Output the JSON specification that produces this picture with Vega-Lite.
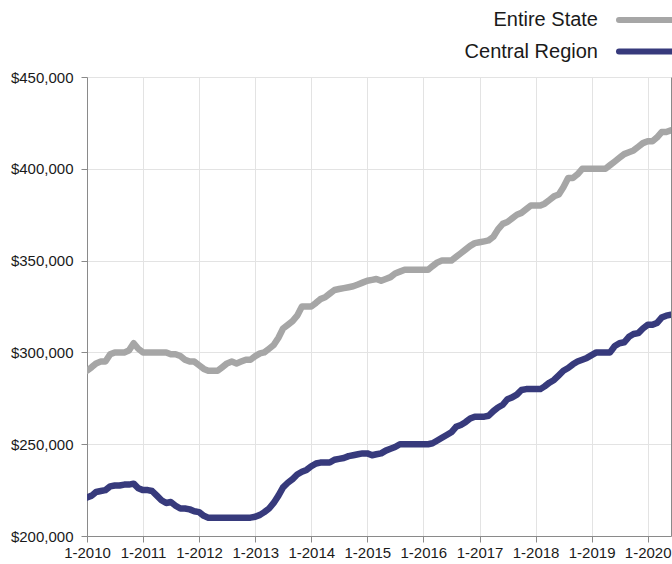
{
"$schema": "https://vega.github.io/schema/vega-lite/v6.json",
"width": 584, "height": 459,
"autosize": "none",
"padding": {"left": 87, "top": 77, "right": 1, "bottom": 28},
"config": {"font": "Liberation Sans", "view": {"stroke": null}},
"datasets": {
"state": [
{"date":"2010-01-01","series":"Entire State","price":290000},{"date":"2010-02-01","series":"Entire State","price":292000},{"date":"2010-03-01","series":"Entire State","price":294000},{"date":"2010-04-01","series":"Entire State","price":295000},{"date":"2010-05-01","series":"Entire State","price":295000},{"date":"2010-06-01","series":"Entire State","price":299000},{"date":"2010-07-01","series":"Entire State","price":300000},{"date":"2010-08-01","series":"Entire State","price":300000},{"date":"2010-09-01","series":"Entire State","price":300000},{"date":"2010-10-01","series":"Entire State","price":301000},{"date":"2010-11-01","series":"Entire State","price":305000},{"date":"2010-12-01","series":"Entire State","price":302000},
{"date":"2011-01-01","series":"Entire State","price":300000},{"date":"2011-02-01","series":"Entire State","price":300000},{"date":"2011-03-01","series":"Entire State","price":300000},{"date":"2011-04-01","series":"Entire State","price":300000},{"date":"2011-05-01","series":"Entire State","price":300000},{"date":"2011-06-01","series":"Entire State","price":300000},{"date":"2011-07-01","series":"Entire State","price":299000},{"date":"2011-08-01","series":"Entire State","price":299000},{"date":"2011-09-01","series":"Entire State","price":298000},{"date":"2011-10-01","series":"Entire State","price":296000},{"date":"2011-11-01","series":"Entire State","price":295000},{"date":"2011-12-01","series":"Entire State","price":295000},
{"date":"2012-01-01","series":"Entire State","price":293000},{"date":"2012-02-01","series":"Entire State","price":291000},{"date":"2012-03-01","series":"Entire State","price":290000},{"date":"2012-04-01","series":"Entire State","price":290000},{"date":"2012-05-01","series":"Entire State","price":290000},{"date":"2012-06-01","series":"Entire State","price":292000},{"date":"2012-07-01","series":"Entire State","price":294000},{"date":"2012-08-01","series":"Entire State","price":295000},{"date":"2012-09-01","series":"Entire State","price":294000},{"date":"2012-10-01","series":"Entire State","price":295000},{"date":"2012-11-01","series":"Entire State","price":296000},{"date":"2012-12-01","series":"Entire State","price":296000},
{"date":"2013-01-01","series":"Entire State","price":298000},{"date":"2013-02-01","series":"Entire State","price":299500},{"date":"2013-03-01","series":"Entire State","price":300000},{"date":"2013-04-01","series":"Entire State","price":302000},{"date":"2013-05-01","series":"Entire State","price":304000},{"date":"2013-06-01","series":"Entire State","price":308000},{"date":"2013-07-01","series":"Entire State","price":313000},{"date":"2013-08-01","series":"Entire State","price":315000},{"date":"2013-09-01","series":"Entire State","price":317000},{"date":"2013-10-01","series":"Entire State","price":320000},{"date":"2013-11-01","series":"Entire State","price":325000},{"date":"2013-12-01","series":"Entire State","price":325000},
{"date":"2014-01-01","series":"Entire State","price":325000},{"date":"2014-02-01","series":"Entire State","price":327000},{"date":"2014-03-01","series":"Entire State","price":329000},{"date":"2014-04-01","series":"Entire State","price":330000},{"date":"2014-05-01","series":"Entire State","price":332000},{"date":"2014-06-01","series":"Entire State","price":334000},{"date":"2014-07-01","series":"Entire State","price":334500},{"date":"2014-08-01","series":"Entire State","price":335000},{"date":"2014-09-01","series":"Entire State","price":335500},{"date":"2014-10-01","series":"Entire State","price":336000},{"date":"2014-11-01","series":"Entire State","price":337000},{"date":"2014-12-01","series":"Entire State","price":338000},
{"date":"2015-01-01","series":"Entire State","price":339000},{"date":"2015-02-01","series":"Entire State","price":339500},{"date":"2015-03-01","series":"Entire State","price":340000},{"date":"2015-04-01","series":"Entire State","price":339000},{"date":"2015-05-01","series":"Entire State","price":340000},{"date":"2015-06-01","series":"Entire State","price":341000},{"date":"2015-07-01","series":"Entire State","price":343000},{"date":"2015-08-01","series":"Entire State","price":344000},{"date":"2015-09-01","series":"Entire State","price":345000},{"date":"2015-10-01","series":"Entire State","price":345000},{"date":"2015-11-01","series":"Entire State","price":345000},{"date":"2015-12-01","series":"Entire State","price":345000},
{"date":"2016-01-01","series":"Entire State","price":345000},{"date":"2016-02-01","series":"Entire State","price":345000},{"date":"2016-03-01","series":"Entire State","price":347000},{"date":"2016-04-01","series":"Entire State","price":349000},{"date":"2016-05-01","series":"Entire State","price":350000},{"date":"2016-06-01","series":"Entire State","price":350000},{"date":"2016-07-01","series":"Entire State","price":350000},{"date":"2016-08-01","series":"Entire State","price":352000},{"date":"2016-09-01","series":"Entire State","price":354000},{"date":"2016-10-01","series":"Entire State","price":356000},{"date":"2016-11-01","series":"Entire State","price":358000},{"date":"2016-12-01","series":"Entire State","price":359500},
{"date":"2017-01-01","series":"Entire State","price":360000},{"date":"2017-02-01","series":"Entire State","price":360500},{"date":"2017-03-01","series":"Entire State","price":361000},{"date":"2017-04-01","series":"Entire State","price":363000},{"date":"2017-05-01","series":"Entire State","price":367000},{"date":"2017-06-01","series":"Entire State","price":370000},{"date":"2017-07-01","series":"Entire State","price":371000},{"date":"2017-08-01","series":"Entire State","price":373000},{"date":"2017-09-01","series":"Entire State","price":375000},{"date":"2017-10-01","series":"Entire State","price":376000},{"date":"2017-11-01","series":"Entire State","price":378000},{"date":"2017-12-01","series":"Entire State","price":380000},
{"date":"2018-01-01","series":"Entire State","price":380000},{"date":"2018-02-01","series":"Entire State","price":380000},{"date":"2018-03-01","series":"Entire State","price":381000},{"date":"2018-04-01","series":"Entire State","price":383000},{"date":"2018-05-01","series":"Entire State","price":385000},{"date":"2018-06-01","series":"Entire State","price":386000},{"date":"2018-07-01","series":"Entire State","price":390000},{"date":"2018-08-01","series":"Entire State","price":395000},{"date":"2018-09-01","series":"Entire State","price":395000},{"date":"2018-10-01","series":"Entire State","price":397000},{"date":"2018-11-01","series":"Entire State","price":400000},{"date":"2018-12-01","series":"Entire State","price":400000},
{"date":"2019-01-01","series":"Entire State","price":400000},{"date":"2019-02-01","series":"Entire State","price":400000},{"date":"2019-03-01","series":"Entire State","price":400000},{"date":"2019-04-01","series":"Entire State","price":400000},{"date":"2019-05-01","series":"Entire State","price":402000},{"date":"2019-06-01","series":"Entire State","price":404000},{"date":"2019-07-01","series":"Entire State","price":406000},{"date":"2019-08-01","series":"Entire State","price":408000},{"date":"2019-09-01","series":"Entire State","price":409000},{"date":"2019-10-01","series":"Entire State","price":410000},{"date":"2019-11-01","series":"Entire State","price":412000},{"date":"2019-12-01","series":"Entire State","price":414000},
{"date":"2020-01-01","series":"Entire State","price":415000},{"date":"2020-02-01","series":"Entire State","price":415000},{"date":"2020-03-01","series":"Entire State","price":417000},{"date":"2020-04-01","series":"Entire State","price":420000},{"date":"2020-05-01","series":"Entire State","price":420000},{"date":"2020-06-01","series":"Entire State","price":421000}
],
"central": [
{"date":"2010-01-01","series":"Central Region","price":221000},{"date":"2010-02-01","series":"Central Region","price":222000},{"date":"2010-03-01","series":"Central Region","price":224000},{"date":"2010-04-01","series":"Central Region","price":224500},{"date":"2010-05-01","series":"Central Region","price":225000},{"date":"2010-06-01","series":"Central Region","price":227000},{"date":"2010-07-01","series":"Central Region","price":227500},{"date":"2010-08-01","series":"Central Region","price":227500},{"date":"2010-09-01","series":"Central Region","price":228000},{"date":"2010-10-01","series":"Central Region","price":228000},{"date":"2010-11-01","series":"Central Region","price":228500},{"date":"2010-12-01","series":"Central Region","price":226000},
{"date":"2011-01-01","series":"Central Region","price":225000},{"date":"2011-02-01","series":"Central Region","price":225000},{"date":"2011-03-01","series":"Central Region","price":224500},{"date":"2011-04-01","series":"Central Region","price":222000},{"date":"2011-05-01","series":"Central Region","price":219500},{"date":"2011-06-01","series":"Central Region","price":218000},{"date":"2011-07-01","series":"Central Region","price":218500},{"date":"2011-08-01","series":"Central Region","price":216500},{"date":"2011-09-01","series":"Central Region","price":215000},{"date":"2011-10-01","series":"Central Region","price":215000},{"date":"2011-11-01","series":"Central Region","price":214500},{"date":"2011-12-01","series":"Central Region","price":213500},
{"date":"2012-01-01","series":"Central Region","price":213000},{"date":"2012-02-01","series":"Central Region","price":211000},{"date":"2012-03-01","series":"Central Region","price":210000},{"date":"2012-04-01","series":"Central Region","price":210000},{"date":"2012-05-01","series":"Central Region","price":210000},{"date":"2012-06-01","series":"Central Region","price":210000},{"date":"2012-07-01","series":"Central Region","price":210000},{"date":"2012-08-01","series":"Central Region","price":210000},{"date":"2012-09-01","series":"Central Region","price":210000},{"date":"2012-10-01","series":"Central Region","price":210000},{"date":"2012-11-01","series":"Central Region","price":210000},{"date":"2012-12-01","series":"Central Region","price":210000},
{"date":"2013-01-01","series":"Central Region","price":210500},{"date":"2013-02-01","series":"Central Region","price":211500},{"date":"2013-03-01","series":"Central Region","price":213000},{"date":"2013-04-01","series":"Central Region","price":215000},{"date":"2013-05-01","series":"Central Region","price":218000},{"date":"2013-06-01","series":"Central Region","price":222000},{"date":"2013-07-01","series":"Central Region","price":226500},{"date":"2013-08-01","series":"Central Region","price":229000},{"date":"2013-09-01","series":"Central Region","price":231000},{"date":"2013-10-01","series":"Central Region","price":233500},{"date":"2013-11-01","series":"Central Region","price":235000},{"date":"2013-12-01","series":"Central Region","price":236000},
{"date":"2014-01-01","series":"Central Region","price":238000},{"date":"2014-02-01","series":"Central Region","price":239500},{"date":"2014-03-01","series":"Central Region","price":240000},{"date":"2014-04-01","series":"Central Region","price":240000},{"date":"2014-05-01","series":"Central Region","price":240000},{"date":"2014-06-01","series":"Central Region","price":241500},{"date":"2014-07-01","series":"Central Region","price":242000},{"date":"2014-08-01","series":"Central Region","price":242500},{"date":"2014-09-01","series":"Central Region","price":243500},{"date":"2014-10-01","series":"Central Region","price":244000},{"date":"2014-11-01","series":"Central Region","price":244500},{"date":"2014-12-01","series":"Central Region","price":245000},
{"date":"2015-01-01","series":"Central Region","price":245000},{"date":"2015-02-01","series":"Central Region","price":244000},{"date":"2015-03-01","series":"Central Region","price":244500},{"date":"2015-04-01","series":"Central Region","price":245000},{"date":"2015-05-01","series":"Central Region","price":246500},{"date":"2015-06-01","series":"Central Region","price":247500},{"date":"2015-07-01","series":"Central Region","price":248500},{"date":"2015-08-01","series":"Central Region","price":250000},{"date":"2015-09-01","series":"Central Region","price":250000},{"date":"2015-10-01","series":"Central Region","price":250000},{"date":"2015-11-01","series":"Central Region","price":250000},{"date":"2015-12-01","series":"Central Region","price":250000},
{"date":"2016-01-01","series":"Central Region","price":250000},{"date":"2016-02-01","series":"Central Region","price":250000},{"date":"2016-03-01","series":"Central Region","price":250500},{"date":"2016-04-01","series":"Central Region","price":252000},{"date":"2016-05-01","series":"Central Region","price":253500},{"date":"2016-06-01","series":"Central Region","price":255000},{"date":"2016-07-01","series":"Central Region","price":256500},{"date":"2016-08-01","series":"Central Region","price":259500},{"date":"2016-09-01","series":"Central Region","price":260500},{"date":"2016-10-01","series":"Central Region","price":262000},{"date":"2016-11-01","series":"Central Region","price":264000},{"date":"2016-12-01","series":"Central Region","price":265000},
{"date":"2017-01-01","series":"Central Region","price":265000},{"date":"2017-02-01","series":"Central Region","price":265000},{"date":"2017-03-01","series":"Central Region","price":265500},{"date":"2017-04-01","series":"Central Region","price":268000},{"date":"2017-05-01","series":"Central Region","price":270000},{"date":"2017-06-01","series":"Central Region","price":271500},{"date":"2017-07-01","series":"Central Region","price":274500},{"date":"2017-08-01","series":"Central Region","price":275500},{"date":"2017-09-01","series":"Central Region","price":277000},{"date":"2017-10-01","series":"Central Region","price":279500},{"date":"2017-11-01","series":"Central Region","price":280000},{"date":"2017-12-01","series":"Central Region","price":280000},
{"date":"2018-01-01","series":"Central Region","price":280000},{"date":"2018-02-01","series":"Central Region","price":280000},{"date":"2018-03-01","series":"Central Region","price":281500},{"date":"2018-04-01","series":"Central Region","price":283500},{"date":"2018-05-01","series":"Central Region","price":285000},{"date":"2018-06-01","series":"Central Region","price":287500},{"date":"2018-07-01","series":"Central Region","price":290000},{"date":"2018-08-01","series":"Central Region","price":291500},{"date":"2018-09-01","series":"Central Region","price":293500},{"date":"2018-10-01","series":"Central Region","price":295000},{"date":"2018-11-01","series":"Central Region","price":296000},{"date":"2018-12-01","series":"Central Region","price":297000},
{"date":"2019-01-01","series":"Central Region","price":298500},{"date":"2019-02-01","series":"Central Region","price":300000},{"date":"2019-03-01","series":"Central Region","price":300000},{"date":"2019-04-01","series":"Central Region","price":300000},{"date":"2019-05-01","series":"Central Region","price":300000},{"date":"2019-06-01","series":"Central Region","price":303500},{"date":"2019-07-01","series":"Central Region","price":305000},{"date":"2019-08-01","series":"Central Region","price":305500},{"date":"2019-09-01","series":"Central Region","price":308500},{"date":"2019-10-01","series":"Central Region","price":310000},{"date":"2019-11-01","series":"Central Region","price":310500},{"date":"2019-12-01","series":"Central Region","price":313000},
{"date":"2020-01-01","series":"Central Region","price":315000},{"date":"2020-02-01","series":"Central Region","price":315000},{"date":"2020-03-01","series":"Central Region","price":316000},{"date":"2020-04-01","series":"Central Region","price":319000},{"date":"2020-05-01","series":"Central Region","price":320000},{"date":"2020-06-01","series":"Central Region","price":320500}
]
},
"encoding": {
  "x": {"field": "date", "type": "temporal",
    "scale": {"type": "utc", "domain": [{"year": 2010, "month": 1, "date": 1, "utc": true}, {"year": 2020, "month": 6, "date": 1, "utc": true}]},
    "axis": {"title": null, "values": [
      {"year": 2010, "month": 1, "date": 1, "utc": true}, {"year": 2011, "month": 1, "date": 1, "utc": true},
      {"year": 2012, "month": 1, "date": 1, "utc": true}, {"year": 2013, "month": 1, "date": 1, "utc": true},
      {"year": 2014, "month": 1, "date": 1, "utc": true}, {"year": 2015, "month": 1, "date": 1, "utc": true},
      {"year": 2016, "month": 1, "date": 1, "utc": true}, {"year": 2017, "month": 1, "date": 1, "utc": true},
      {"year": 2018, "month": 1, "date": 1, "utc": true}, {"year": 2019, "month": 1, "date": 1, "utc": true},
      {"year": 2020, "month": 1, "date": 1, "utc": true}],
      "labelExpr": "'1-' + utcFormat(datum.value, '%Y')",
      "grid": true, "gridColor": "#e3e3e3", "domainColor": "#8a8a8a", "tickColor": "#8a8a8a", "tickSize": 6,
      "labelFontSize": 15, "labelColor": "#1a1a1a", "labelPadding": 3, "labelFlush": false, "labelOverlap": false}},
  "y": {"field": "price", "type": "quantitative",
    "scale": {"domain": [200000, 450000], "nice": false, "zero": false}},
  "color": {"field": "series", "type": "nominal",
    "scale": {"domain": ["Entire State", "Central Region"], "range": ["#a6a6a6", "#373a7c"]},
    "legend": {"title": null, "orient": "none", "legendX": 549, "legendY": -70,
      "symbolType": "M-3,0H3", "symbolSize": 400, "symbolStrokeWidth": 6,
      "labelAlign": "right", "labelOffset": -64, "labelFontSize": 20, "labelColor": "#1a1a1a",
      "labelLimit": 0, "rowPadding": 6.5,
      "encode": {"symbols": {"update": {"strokeCap": {"value": "round"}}}}}}
},
"layer": [
  {"data": {"name": "state"},
   "mark": {"type": "line", "strokeWidth": 6.5, "strokeJoin": "round", "strokeCap": "round", "clip": true},
   "encoding": {"y": {"field": "price", "type": "quantitative",
     "scale": {"domain": [200000, 450000], "nice": false, "zero": false},
     "axis": {"title": null, "values": [200000, 250000, 300000, 350000, 400000, 450000], "format": "$,.0f",
       "grid": true, "gridColor": "#e3e3e3", "domainColor": "#8a8a8a", "tickColor": "#8a8a8a", "tickSize": 6,
       "labelFontSize": 15, "labelColor": "#1a1a1a", "labelPadding": 8}}}},
  {"data": {"name": "central"},
   "mark": {"type": "line", "strokeWidth": 6.5, "strokeJoin": "round", "strokeCap": "round", "clip": true},
   "encoding": {"y": {"field": "price", "type": "quantitative",
     "scale": {"domain": [200000, 450000], "nice": false, "zero": false},
     "axis": {"title": null, "orient": "right", "labels": false, "ticks": false, "grid": false,
       "domain": true, "domainColor": "#8a8a8a"}}}}
],
"resolve": {"axis": {"y": "independent"}}
}
